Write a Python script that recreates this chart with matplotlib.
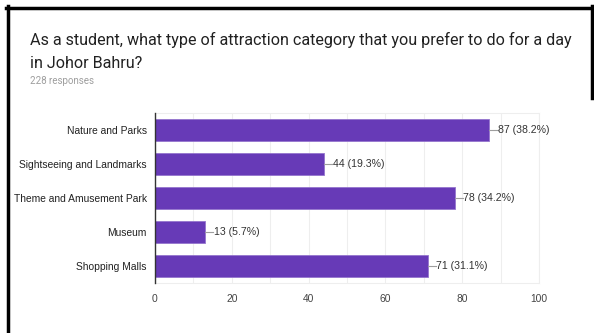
import matplotlib
matplotlib.use("Agg")
from matplotlib import pyplot as plt
from matplotlib.lines import Line2D

categories = ["Nature and Parks", "Sightseeing and Landmarks", "Theme and Amusement Park",
              "Museum", "Shopping Malls"]
counts = [87, 44, 78, 13, 71]
percents = [38.2, 19.3, 34.2, 5.7, 31.1]
xticks = [0, 20, 40, 60, 80, 100]

fig = plt.figure(figsize=(5.94, 3.33), dpi=100)
fig.set_facecolor("w")

# frame lines from the screenshot
fig.add_artist(Line2D([7.5/594, 7.5/594], [0, 1-6/333], color="k", lw=2.5))
fig.add_artist(Line2D([6/594, 1], [1-7.5/333, 1-7.5/333], color="k", lw=2.5))
fig.add_artist(Line2D([591.5/594, 591.5/594], [1-6/333, 1-98/333], color="k", lw=2.5))

fig.text(30/594, 1-40/333, "As a student, what type of attraction category that you prefer to do for a day",
         fontsize=11.6, family="Roboto", color="#212121", va="center")
fig.text(30/594, 1-63/333, "in Johor Bahru?",
         fontsize=11.6, family="Roboto", color="#212121", va="center")
fig.text(30/594, 1-81/333, "228 responses", fontsize=7, family="Roboto", color="#9e9e9e", va="center")

ax = fig.add_axes([155/594, 1-283/333, 384/594, 170/333])
y = list(range(len(categories)))
ax.barh(y, counts, height=0.62, color="#673ab7", edgecolor="#9575cd", lw=0.6, zorder=3)
ax.set_ylim(len(categories)-0.5, -0.5)
ax.set_xlim(0, 100)

for i, (c, p) in enumerate(zip(counts, percents)):
    ax.plot([c, c + 2.2], [i, i], color="#9e9e9e", lw=0.8, zorder=3, clip_on=False)
    ax.text(c + 2.3, i, f"{c} ({p}%)", va="center", ha="left", fontsize=7.6,
            family="Liberation Sans", color="#333333")

ax.set_xticks(xticks)
ax.set_xticks(range(10, 100, 20), minor=True)
ax.grid(axis="x", which="both", color="#eeeeee", lw=0.8, zorder=0)
ax.set_yticks(y)
ax.set_yticklabels(categories, family="Liberation Sans", fontsize=7.4, color="#222222")
for lab in ax.get_xticklabels():
    lab.set_family("Liberation Sans")
ax.tick_params(axis="x", which="both", length=0, labelsize=7.4, labelcolor="#444444", pad=8)
ax.tick_params(axis="y", length=0, pad=6)
for s in ["top", "bottom", "right"]:
    ax.spines[s].set_color("#eeeeee")
    ax.spines[s].set_linewidth(0.8)
ax.spines["left"].set_color("#333333")
ax.spines["left"].set_linewidth(1)
ax.spines["left"].set_zorder(4)

plt.savefig("out.png", dpi=100, facecolor="w")
